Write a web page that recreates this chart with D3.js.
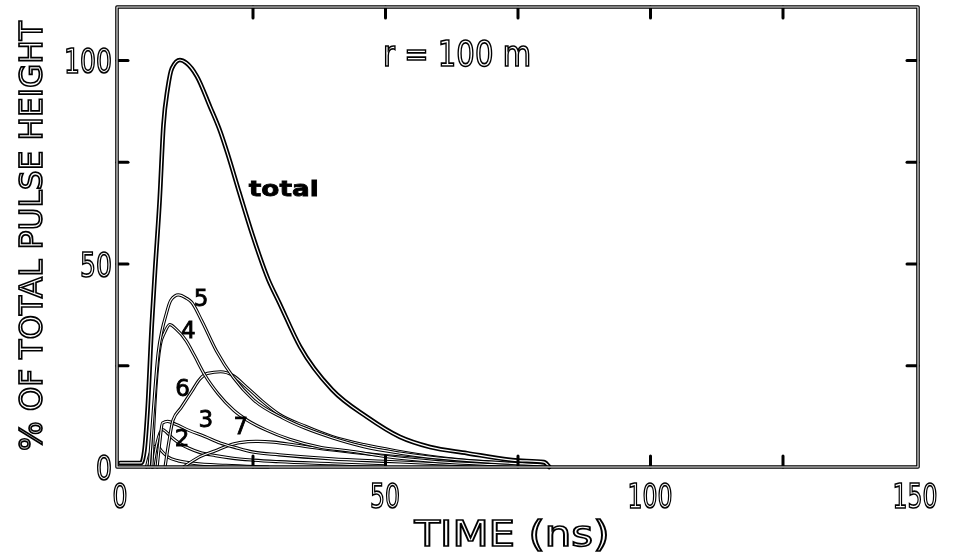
<!DOCTYPE html>
<html>
<head>
<meta charset="utf-8">
<script src="https://cdn.jsdelivr.net/npm/d3@7"></script>
<style>
  body { margin: 0; background: #fff; }
  svg { filter: grayscale(100%); }
  .hollow { fill: #fff; stroke: #000; stroke-width: 1.7px; font-family: "DejaVu Sans", sans-serif; }
  .tag { fill: #000; stroke: #000; stroke-width: 0.8px; font-family: "DejaVu Sans", sans-serif; }
</style>
</head>
<body>
<div id="chart"></div>
<script>
// pulse components, [time ns, % of total pulse height]
const total = [[0,1],[4,1],[4.6,4],[5.2,14],[6,35],[6.6,48],[7.5,66],[8.2,84],[9,93],[9.8,98],[11.3,100],[12.5,99.3],[14.5,96],[17,88.5],[18.9,82.5],[20.3,77],[22.5,67.5],[25,57],[28,46],[30,40.5],[34,29.5],[40,19],[46.6,12.3],[52.8,7.4],[58.5,4.9],[65.5,3.4],[74,1.7],[80,1.2],[81,0]];
const comp5 = [[5.5,0],[6.3,14],[7.2,28],[8,34],[8.6,37],[9.6,41],[11,42.3],[12.5,41.5],[13.5,40.5],[15.4,36],[18.2,28.5],[21.4,22],[25.2,16.5],[30.8,12],[35,9.5],[40,7.2],[46,5],[52.8,3.4],[60,2.2],[70,1.2],[80,0.5]];
const comp4 = [[6,0],[6.8,20],[7.6,30],[8.4,33],[9.4,35],[10.5,34],[12.5,31],[14,27.5],[16,22.6],[18.5,18],[21.4,14],[24,11.5],[27.7,9],[32,6.8],[38,4.8],[43,4],[50,2.6],[60,1.3],[70,0.6],[78,0.2]];
const comp6 = [[8.5,0],[9.2,6],[10,11.5],[11.5,14.5],[13.5,18.5],[15,21.5],[16.5,23],[19,23.4],[21.3,22.5],[24,19.5],[27,16],[30,13],[35,10],[40,7.5],[46,5.5],[52,4],[60,2.4],[70,1.2],[78,0.6]];
const comp3 = [[7,0],[7.5,6],[8,10.8],[9,11.2],[10.5,10.5],[13,9],[16,7.5],[18.9,5.9],[22,4.7],[25,3.7],[30,3],[40,2],[50,1.4],[60,0.8],[70,0.3]];
const comp7 = [[12,0],[15,2.5],[18,4],[20.5,5.3],[22.6,6],[26,6.3],[29,6.1],[33,5.4],[38,4.5],[44,3.6],[50,2.8],[60,1.7],[70,0.9],[80,0.3]];
const comp2 = [[6.2,0],[7,6],[8,9.2],[8.8,8.5],[10,7],[11.5,5.6],[13,4.6],[15,3.6],[18,2.8],[21,2.2],[25,1.7],[30,1.3],[40,0.8],[50,0.3]];
const comp1 = [[5,0],[5.6,3],[6.3,4.8],[7,5.2],[7.8,4],[9,2.5],[11,1.5],[14,0.9],[20,0.4],[28,0]];

const xTicks = [25, 50, 75, 100, 125];
const yTicks = [25, 50, 75, 100];
const xLabels = [0, 50, 100, 150];
const yLabels = [0, 50, 100];
const tags = [
  {text: '5', t: 15.3, v: 39.5},
  {text: '4', t: 12.9, v: 31.8},
  {text: '6', t: 11.8, v: 17.5},
  {text: '3', t: 16.2, v: 9.8},
  {text: '7', t: 22.8, v: 8.2},
  {text: '2', t: 11.7, v: 5.2}
];

const width = 960, height = 554;
const svg = d3.select('#chart').append('svg')
  .attr('width', width).attr('height', height)
  .attr('viewBox', `0 0 ${width} ${height}`);

const x = d3.scaleLinear().domain([0, 150]).range([120, 915]);
const y = d3.scaleLinear().domain([0, 100]).range([467, 60]);
const box = {left: 117, right: 918, top: 7, bottom: 467};

// double-outline stroke: black with a thin white core
function outlined(sel, d, wide, core) {
  sel.append('path').attr('d', d).attr('fill', 'none')
    .attr('stroke', '#000').attr('stroke-width', wide)
    .attr('stroke-linejoin', 'round').attr('stroke-linecap', 'round');
  sel.append('path').attr('d', d).attr('fill', 'none')
    .attr('stroke', '#fff').attr('stroke-width', core)
    .attr('stroke-linejoin', 'round').attr('stroke-linecap', 'round');
}

const line = d3.line()
  .x(d => x(d[0]))
  .y(d => y(d[1]))
  .curve(d3.curveMonotoneX);

const curves = svg.append('g');
[comp1, comp2, comp7, comp3, comp6, comp4, comp5].forEach(s => outlined(curves, line(s), 3.2, 1.1));
outlined(curves, line(total), 4.6, 1.2);

// inward ticks on all four sides, drawn under the frame
const tickLen = 11;
svg.append('g').attr('transform', `translate(0,${box.top})`)
  .call(d3.axisTop(x).tickValues(xTicks).tickSize(-tickLen).tickFormat(''));
svg.append('g').attr('transform', `translate(0,${box.bottom})`)
  .call(d3.axisBottom(x).tickValues(xTicks).tickSize(-tickLen).tickFormat(''));
svg.append('g').attr('transform', `translate(${box.left},0)`)
  .call(d3.axisLeft(y).tickValues(yTicks).tickSize(-tickLen).tickFormat(''));
svg.append('g').attr('transform', `translate(${box.right},0)`)
  .call(d3.axisRight(y).tickValues(yTicks).tickSize(-tickLen).tickFormat(''));
svg.selectAll('.domain').remove();
svg.selectAll('.tick line').attr('stroke', '#000').attr('stroke-width', 3).attr('stroke-linecap', 'round');

const frame = svg.append('g');
outlined(frame, `M${box.left},${box.top}H${box.right}V${box.bottom}H${box.left}Z`, 3.6, 1.1);

// tick labels
svg.append('g').selectAll('text').data(xLabels).join('text')
  .attr('class', 'hollow')
  .attr('x', d => x(d)).attr('y', 508)
  .attr('text-anchor', 'middle')
  .attr('font-size', 34)
  .attr('textLength', d => String(d).length * 15)
  .attr('lengthAdjust', 'spacingAndGlyphs')
  .text(d => d);

svg.append('g').selectAll('text').data(yLabels).join('text')
  .attr('class', 'hollow')
  .attr('x', 112).attr('y', d => y(d) + 13)
  .attr('text-anchor', 'end')
  .attr('font-size', 34)
  .attr('textLength', d => String(d).length * 16)
  .attr('lengthAdjust', 'spacingAndGlyphs')
  .text(d => d);

// axis titles
svg.append('text').attr('class', 'hollow')
  .attr('x', 512).attr('y', 546)
  .attr('text-anchor', 'middle')
  .attr('font-size', 36)
  .attr('textLength', 195).attr('lengthAdjust', 'spacingAndGlyphs')
  .text('TIME (ns)');

svg.append('text').attr('class', 'hollow')
  .attr('transform', 'translate(42,236) rotate(-90)')
  .attr('text-anchor', 'middle')
  .attr('font-size', 32)
  .attr('textLength', 430).attr('lengthAdjust', 'spacingAndGlyphs')
  .text('% OF TOTAL PULSE HEIGHT');

svg.append('text').attr('class', 'hollow')
  .attr('x', 457).attr('y', 66)
  .attr('text-anchor', 'middle')
  .attr('font-size', 36)
  .attr('textLength', 148).attr('lengthAdjust', 'spacingAndGlyphs')
  .text('r = 100 m');

// curve tags
svg.append('text').attr('class', 'tag')
  .attr('x', x(24.3)).attr('y', y(66.5))
  .attr('font-size', 22).attr('font-weight', 'bold')
  .attr('textLength', 70).attr('lengthAdjust', 'spacingAndGlyphs')
  .text('total');

svg.append('g').selectAll('text').data(tags).join('text')
  .attr('class', 'tag')
  .attr('x', d => x(d.t)).attr('y', d => y(d.v))
  .attr('text-anchor', 'middle')
  .attr('font-size', 23)
  .text(d => d.text);
</script>
</body>
</html>
